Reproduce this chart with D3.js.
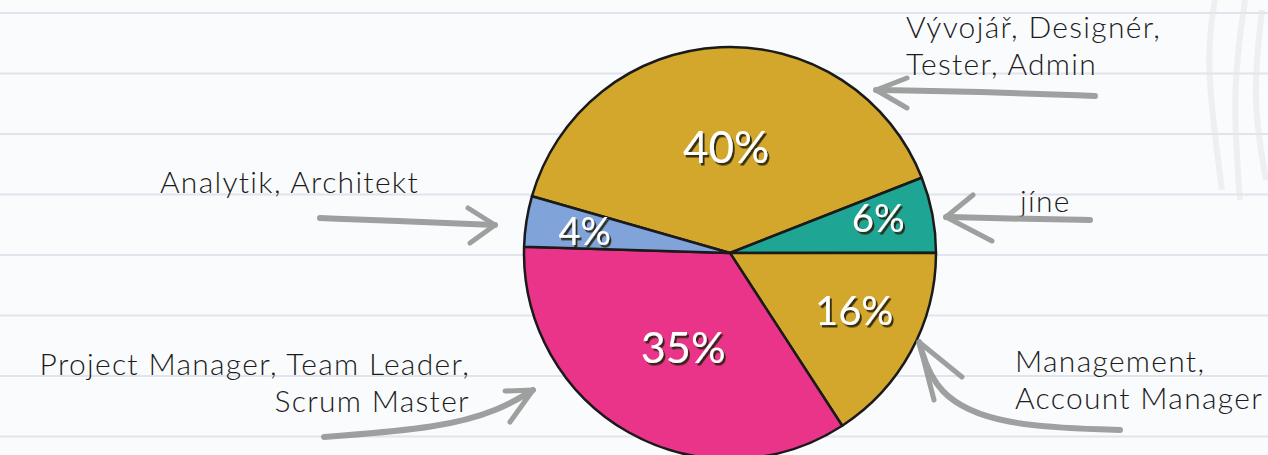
<!DOCTYPE html>
<html>
<head>
<meta charset="utf-8">
<script src="https://cdn.jsdelivr.net/npm/d3@7"></script>
<style>
  body { margin: 0; background: #fafbfd; }
  svg { display: block; }
  .note { font-family: "Lato", "Open Sans", sans-serif; font-weight: 300; fill: #1c1c1c; letter-spacing: 1.3px; }
  .pct { font-family: "Lato", "Open Sans", sans-serif; font-weight: 400; }
</style>
</head>
<body>
<svg id="chart" width="1268" height="455"></svg>
<script>
// slices, clockwise from the top-left
var roles = ["Vývojář, Designér, Tester, Admin", "jíne", "Management, Account Manager",
             "Project Manager, Team Leader, Scrum Master", "Analytik, Architekt"];
var shares = [40, 6, 16, 35, 4];
var colors = ["#d3a72c", "#1ea593", "#d3a72c", "#e9348a", "#80a3d9"];

// notes beside the pie (lines of text)
var noteLines = [
  ["Vývojář, Designér,", "Tester, Admin"],
  ["jíne"],
  ["Management,", "Account Manager"],
  ["Project Manager, Team Leader,", "Scrum Master"],
  ["Analytik, Architekt"]
];

var svg = d3.select("#chart"),
    width = +svg.attr("width"),
    height = +svg.attr("height");

var defs = svg.append("defs");
defs.append("filter")
    .attr("id", "shadow")
    .attr("x", "-20%").attr("y", "-20%")
    .attr("width", "140%").attr("height", "140%")
    .append("feDropShadow")
    .attr("dx", 2).attr("dy", 2.5)
    .attr("stdDeviation", 0.4)
    .attr("flood-color", "#2a2410")
    .attr("flood-opacity", 0.9);

// ruled notebook paper
var rules = d3.range(13, height, 60.5);
svg.append("g").selectAll("line")
   .data(rules)
   .enter().append("line")
   .attr("x1", 0).attr("x2", width)
   .attr("y1", function(d) { return d; })
   .attr("y2", function(d) { return d; })
   .attr("stroke", "#e1e4ec")
   .attr("stroke-width", 2);

// faint pencil scribble top right
var scribble = [[[1215, 0], [1205, 60], [1222, 190]], [[1245, 0], [1232, 90], [1240, 200]],
                [[1262, 10], [1252, 100], [1266, 180]]];
var sLine = d3.line().curve(d3.curveBasis);
svg.append("g").selectAll("path")
   .data(scribble)
   .enter().append("path")
   .attr("d", sLine)
   .attr("fill", "none")
   .attr("stroke", "#e6e6e6")
   .attr("stroke-width", 6)
   .attr("opacity", 0.55);

var cx = 730, cy = 253, radius = 206;

var g = svg.append("g")
           .attr("transform", "translate(" + cx + "," + cy + ")");

var pie = d3.pie()
            .sort(null)
            .value(function(d) { return d; })
            .startAngle(-74 * Math.PI / 180)
            .endAngle(286 * Math.PI / 180);

var path = d3.arc()
             .outerRadius(radius)
             .innerRadius(0);

var arcs = pie(shares);

g.selectAll(".arc")
 .data(arcs)
 .enter().append("path")
 .attr("class", "arc")
 .attr("d", path)
 .attr("fill", function(d, i) { return colors[i]; })
 .attr("stroke", "#1a1a1a")
 .attr("stroke-width", 2.5)
 .attr("stroke-linejoin", "round");

// small slices get their label further out
var labelR = d3.scaleLinear().domain([4, 40]).range([0.73, 0.5]);
var labelSize = d3.scaleLinear().domain([4, 40]).range([38, 44]);

function labelPos(d) {
    var r = radius * labelR(d.data);
    var a = (d.startAngle + d.endAngle) / 2 - 0.03;
    return [Math.sin(a) * r + 4, -Math.cos(a) * r - 4];
}

g.selectAll(".pct")
 .data(arcs)
 .enter().append("text")
 .attr("class", "pct")
 .attr("transform", function(d) { return "translate(" + labelPos(d) + ")"; })
 .attr("text-anchor", "middle")
 .attr("dominant-baseline", "central")
 .attr("font-size", function(d) { return labelSize(d.data); })
 .attr("fill", "#ffffff")
 .attr("filter", "url(#shadow)")
 .text(function(d) { return d.data + "%"; });

// note placement: anchor point and alignment per slice
var notePos = [
  {x: 906, y: 38, anchor: "start"},
  {x: 1020, y: 212, anchor: "start"},
  {x: 1015, y: 372, anchor: "start"},
  {x: 470, y: 375, anchor: "end"},
  {x: 160, y: 193, anchor: "start"}
];

var notes = svg.append("g").selectAll("text")
               .data(noteLines)
               .enter().append("text")
               .attr("class", "note")
               .attr("font-size", 30)
               .attr("text-anchor", function(d, i) { return notePos[i].anchor; })
               .attr("transform", function(d, i) {
                    return "translate(" + notePos[i].x + "," + notePos[i].y + ")";
               });

notes.selectAll("tspan")
     .data(function(d) { return d; })
     .enter().append("tspan")
     .attr("x", 0)
     .attr("y", function(d, i) { return i * 37; })
     .text(function(d) { return d; });

// brushed arrows pointing at the slices
var arrows = [
  {line: [[1095, 96], [990, 92], [876, 90]], head: [[907, 78], [876, 90], [907, 108]]},
  {line: [[1090, 220], [1030, 219], [946, 217]], head: [[973, 195], [946, 217], [992, 241]]},
  {line: [[1120, 430], [1000, 426], [935, 395], [919, 342]], head: [[934, 400], [919, 342], [962, 377]]},
  {line: [[324, 437], [440, 428], [500, 410], [533, 390]], head: [[505, 391], [533, 390], [510, 422]]},
  {line: [[320, 218], [420, 222], [495, 225]], head: [[468, 208], [495, 225], [470, 243]]}
];

var aLine = d3.line().curve(d3.curveBasis);
var hLine = d3.line();

var ag = svg.append("g").selectAll("g")
            .data(arrows)
            .enter().append("g")
            .attr("fill", "none")
            .attr("stroke", "#8f8f8f")
            .attr("stroke-linecap", "round")
            .attr("stroke-linejoin", "round")
            .attr("opacity", 0.85);

ag.append("path")
  .attr("d", function(d) { return aLine(d.line); })
  .attr("stroke-width", 6);

ag.append("path")
  .attr("d", function(d) { return hLine(d.head); })
  .attr("stroke-width", 5);
</script>
</body>
</html>
